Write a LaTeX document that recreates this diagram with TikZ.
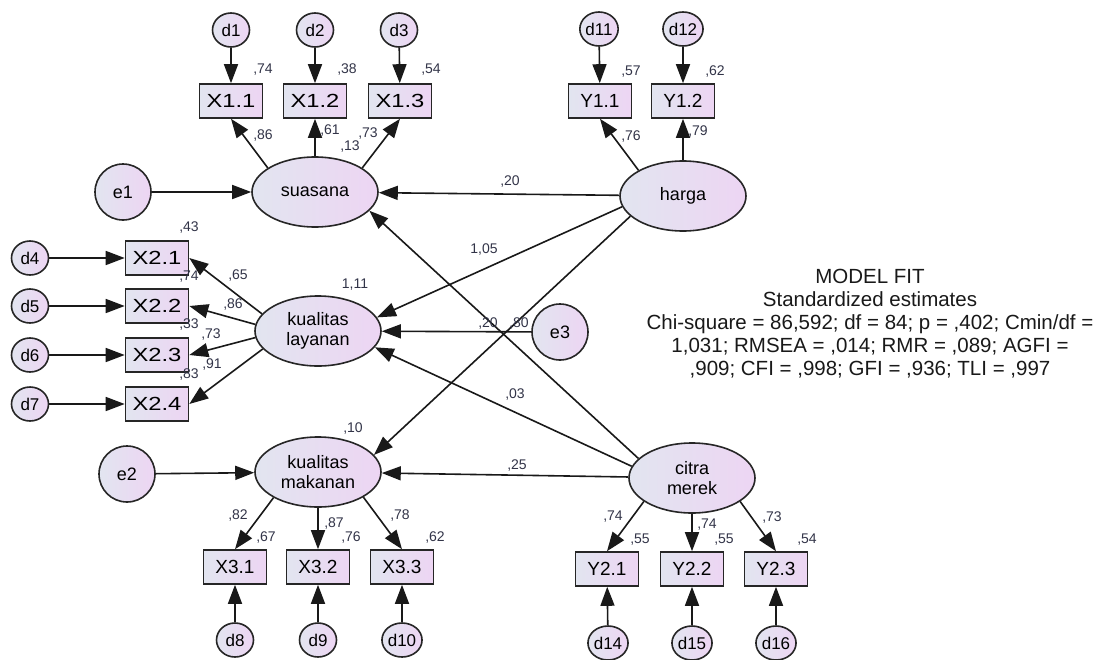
\documentclass[tikz,border=0pt]{standalone}
\usepackage{fontspec}
\setmainfont{Liberation Sans}
\newfontfamily\widesans[FakeStretch=1.25]{Liberation Sans}
\usetikzlibrary{arrows.meta,shapes.geometric}
\definecolor{fillL}{RGB}{226,229,240}
\definecolor{fillR}{RGB}{237,213,243}
\definecolor{estgray}{RGB}{50,52,72}

\begin{document}
\begin{tikzpicture}[x=1pt,y=-1pt,
  base/.style={draw=black!85, line width=1.6pt, left color=fillL, right color=fillR, inner sep=0pt},
  latent/.style={base, ellipse, minimum width=126pt, minimum height=70pt,
    font=\fontsize{18}{20}\selectfont, align=center},
  err/.style={base, circle, minimum size=56pt, font=\fontsize{18}{20}\selectfont},
  dist/.style={base, ellipse, minimum width=37pt, minimum height=34pt,
    font=\fontsize{17}{20}\selectfont},
  obs/.style={base, rectangle, minimum width=63pt, minimum height=34pt,
    font=\fontsize{19}{22}\selectfont},
  obsw/.style={obs, font=\widesans\fontsize{19}{22}\selectfont},
  arr/.style={-{Triangle[length=19pt,width=14pt]}, line width=1.6pt, draw=black!90},
  est/.style={text=estgray, font=\fontsize{14}{16}\selectfont, inner sep=0pt}
]
\useasboundingbox[fill=white] (0,0) rectangle (1100,659);

% latent variables
\node[latent] (sua)   at (315,192) {suasana};
\node[latent] (lay)   at (318,331) {kualitas\\layanan};
\node[latent] (mak)   at (318,472) {kualitas\\makanan};
\node[latent] (harga) at (683,196) {harga};
\node[latent] (citra) at (692,478) {citra\\merek};

% structural residuals
\node[err] (e1) at (123,192) {e1};
\node[err] (e2) at (127,474) {e2};
\node[err] (e3) at (560,332) {e3};

% indicators of suasana and harga
\node[obsw] (x11) at (231,101) {X1.1};
\node[obsw] (x12) at (315,101) {X1.2};
\node[obsw] (x13) at (400,101) {X1.3};
\node[obs]  (y11) at (600,101) {Y1.1};
\node[obs]  (y12) at (683,101) {Y1.2};
\node[dist] (d1)  at (231,30) {d1};
\node[dist] (d2)  at (315,30) {d2};
\node[dist] (d3)  at (399,30) {d3};
\node[dist] (d11) at (599,29) {d11};
\node[dist] (d12) at (683,29) {d12};

% indicators of kualitas layanan
\node[obsw] (x21) at (157,258) {X2.1};
\node[obsw] (x22) at (157,306) {X2.2};
\node[obsw] (x23) at (157,355) {X2.3};
\node[obsw] (x24) at (157,404) {X2.4};
\node[dist] (d4) at (30,258) {d4};
\node[dist] (d5) at (30,306) {d5};
\node[dist] (d6) at (30,355) {d6};
\node[dist] (d7) at (30,404) {d7};

% indicators of kualitas makanan and citra merek
\node[obs] (x31) at (235,567) {X3.1};
\node[obs] (x32) at (318,567) {X3.2};
\node[obs] (x33) at (402,567) {X3.3};
\node[obs] (y21) at (607,569) {Y2.1};
\node[obs] (y22) at (692,569) {Y2.2};
\node[obs] (y23) at (776,569) {Y2.3};
\node[dist] (d8)  at (235,640) {d8};
\node[dist] (d9)  at (318,640) {d9};
\node[dist] (d10) at (402,640) {d10};
\node[dist] (d14) at (608,643) {d14};
\node[dist] (d15) at (692,643) {d15};
\node[dist] (d16) at (776,643) {d16};

% measurement errors
\foreach \d/\x in {d1/x11,d2/x12,d3/x13,d11/y11,d12/y12,d4/x21,d5/x22,d6/x23,d7/x24,
                   d8/x31,d9/x32,d10/x33,d14/y21,d15/y22,d16/y23}
  \draw[arr] (\d) -- (\x);

% loadings
\draw[arr] (sua.153) -- (x11.south);
\draw[arr] (sua.90)  -- (x12.south);
\draw[arr] (sua.27)  -- (x13.south);
\draw[arr] (harga.150) -- (y11.south);
\draw[arr] (harga.90)  -- (y12.south);
\draw[arr] (lay.163) -- (x21.east);
\draw[arr] (lay.174) -- (x22.east);
\draw[arr] (lay.186) -- (x23.east);
\draw[arr] (lay.198) -- (x24.east);
\draw[arr] (mak.210) -- (x31.north);
\draw[arr] (mak.270) -- (x32.north);
\draw[arr] (mak.331) -- (x33.north);
\draw[arr] (citra.206) -- (y21.north);
\draw[arr] (citra.270) -- (y22.north);
\draw[arr] (citra.334) -- (y23.north);

% structural paths
\draw[arr] (e1) -- (sua);
\draw[arr] (e2) -- (mak);
\draw[arr] (e3) -- (lay);
\draw[arr] (harga) -- (sua);
\draw[arr] (harga.190) -- (lay.13);
\draw[arr] (harga.201) -- (mak.17);
\draw[arr] (citra.160) -- (sua.-19);
\draw[arr] (citra.169) -- (lay.-16);
\draw[arr] (citra) -- (mak);

% standardized estimates
\node[est] (s1)  at (263,70)  {,74};
\node[est] (s2)  at (347,70)  {,38};
\node[est] (s3)  at (431,70)  {,54};
\node[est] (s4)  at (263,136) {,86};
\node[est] (s5)  at (330,131) {,61};
\node[est] (s6)  at (350,147) {,13};
\node[est] (s7)  at (368,134) {,73};
\node[est] (s8)  at (631,72)  {,57};
\node[est] (s9)  at (715,72)  {,62};
\node[est] (s10) at (631,137) {,76};
\node[est] (s11) at (698,132) {,79};
\node[est] (s12) at (189,228) {,43};
\node[est] (s13) at (189,277) {,74};
\node[est] (s14) at (189,325) {,33};
\node[est] (s15) at (189,375) {,83};
\node[est] (s16) at (238,276) {,65};
\node[est] (s17) at (233,305) {,86};
\node[est] (s18) at (211,335) {,73};
\node[est] (s19) at (212,365) {,91};
\node[est] (s20) at (355,285) {1,11};
\node[est] (s21) at (510,182) {,20};
\node[est] (s22) at (484,250) {1,05};
\node[est] (s23) at (488,324) {,20};
\node[est] (s24) at (519,324) {,80};
\node[est] (s25) at (515,395) {,03};
\node[est] (s26) at (353,429) {,10};
\node[est] (s27) at (517,465) {,25};
\node[est] (s28) at (238,515) {,82};
\node[est] (s29) at (266,537) {,67};
\node[est] (s30) at (334,523) {,87};
\node[est] (s31) at (351,537) {,76};
\node[est] (s32) at (400,515) {,78};
\node[est] (s33) at (435,537) {,62};
\node[est] (s34) at (613,517) {,74};
\node[est] (s35) at (640,540) {,55};
\node[est] (s36) at (707,525) {,74};
\node[est] (s37) at (724,540) {,55};
\node[est] (s38) at (772,517) {,73};
\node[est] (s39) at (807,540) {,54};

% fit summary
\node[align=center, inner sep=0pt, text=black!90, font=\fontsize{20.5}{23}\selectfont] (fit) at (870,324)
  {MODEL FIT\\Standardized estimates\\Chi-square = 86,592; df = 84; p = ,402; Cmin/df =\\
   1,031; RMSEA = ,014; RMR = ,089; AGFI =\\,909; CFI = ,998; GFI = ,936; TLI = ,997};
\end{tikzpicture}
\end{document}
